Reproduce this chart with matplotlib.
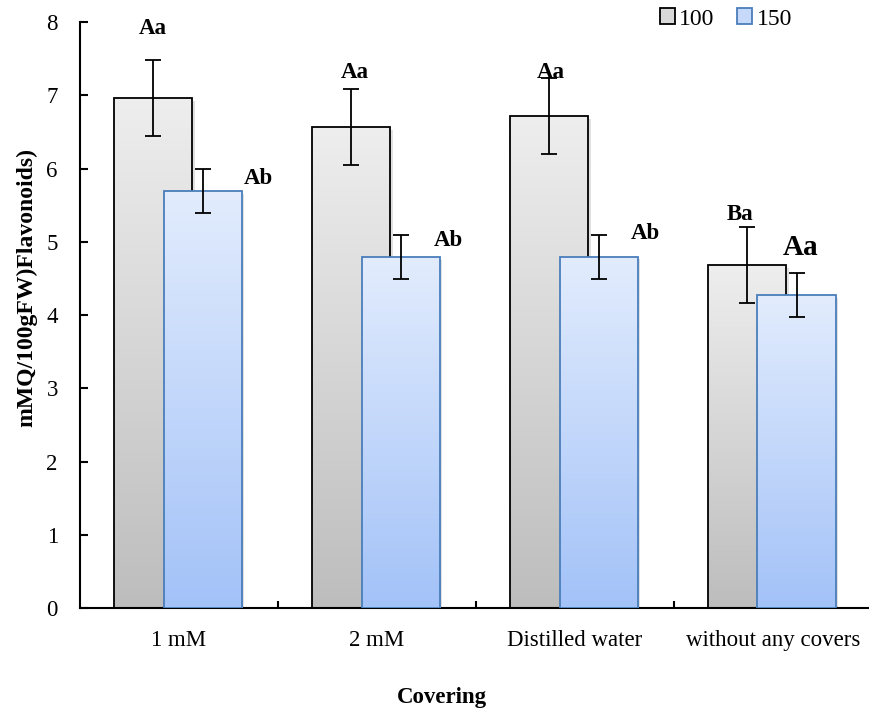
import numpy as np
import matplotlib
matplotlib.use('Agg')
import matplotlib.pyplot as plt
import matplotlib.colors as mcolors

plt.rcParams['font.family'] = ['Liberation Serif', 'DejaVu Serif']

# data
categories = ['1 mM', '2 mM', 'Distilled water', 'without any covers']
series = ['100', '150']
vals_100 = [6.97, 6.57, 6.72, 4.69]
vals_150 = [5.70, 4.79, 4.80, 4.27]
err_100 = [0.52, 0.52, 0.52, 0.52]
err_150 = [0.30, 0.30, 0.30, 0.30]
letters_100 = ['Aa', 'Aa', 'Aa', 'Ba']
letters_150 = ['Ab', 'Ab', 'Ab', 'Aa']

fig = plt.figure(figsize=(8.7, 7.17), dpi=100)
ax = fig.add_axes([0.092, 0.152, 0.91, 0.817])

x = np.arange(len(categories))
width = 0.395
offs = [-0.13, 0.12]

grads = [('#eeeeee', '#bdbdbd', 'black'), ('#e2ecfd', '#a3c2f8', '#4a7ebb')]


def grad_bars(xs, vals, errs, top, bottom, edge, z):
	cmap = mcolors.LinearSegmentedColormap.from_list('g', [bottom, top])
	img = np.linspace(0, 1, 256).reshape(-1, 1)
	bars = ax.bar(xs, vals, width, facecolor='none', edgecolor=edge, linewidth=1.3, zorder=z + 1)
	for b in bars:
		# soft shadow
		ax.add_patch(plt.Rectangle((b.get_x() + 0.012, 0), b.get_width(), b.get_height() - 0.04,
			facecolor='#000000', alpha=0.12, zorder=z - 0.5, linewidth=0))
		im = ax.imshow(img, cmap=cmap, aspect='auto', origin='lower',
			extent=[b.get_x(), b.get_x() + b.get_width(), 0, b.get_height()], zorder=z)
		im.set_clip_path(b)
	ax.errorbar(xs, vals, yerr=errs, fmt='none', ecolor='black', elinewidth=1.3,
		capsize=6, capthick=1.3, zorder=z + 2)
	return bars


b1 = grad_bars(x + offs[0], vals_100, err_100, grads[0][0], grads[0][1], grads[0][2], 2)
b2 = grad_bars(x + offs[1], vals_150, err_150, grads[1][0], grads[1][1], grads[1][2], 5)

# significance letters, placed next to their bars
lx_100 = [0.0, 0.02, 0.01, -0.035]
ly_100 = [0.43, 0.23, 0.08, 0.16]
lx_150 = [0.28, 0.24, 0.235, 0.02]
ly_150 = [-0.13, -0.07, 0.02, 0.36]
for i in range(len(categories)):
	ax.text(x[i] + offs[0] + lx_100[i], vals_100[i] + err_100[i] + ly_100[i], letters_100[i],
		ha='center', va='center', fontsize=16.5, fontweight='bold', zorder=10)
	ax.text(x[i] + offs[1] + lx_150[i], vals_150[i] + err_150[i] + ly_150[i], letters_150[i],
		ha='center', va='center', fontsize=16.5 if i < 3 else 21, fontweight='bold', zorder=10)

ax.set_xlim(-0.5, 3.5)
ax.set_ylim(0, 8)
ax.set_xticks(x)
ax.set_xticklabels(categories, fontsize=16.5)
ax.set_xticks([0.5, 1.5, 2.5], minor=True)
ax.tick_params(axis='x', which='major', length=0, pad=16)
ax.tick_params(axis='x', which='minor', direction='in', length=5, width=1.5)
ax.tick_params(axis='y', direction='in', length=6, width=1.5, labelsize=16.5, pad=16)
ax.set_yticks(range(0, 9))

for s in ['top', 'right']:
	ax.spines[s].set_visible(False)
for s in ['left', 'bottom']:
	ax.spines[s].set_linewidth(1.5)

fig.text(442 / 870, 1 - 697 / 717, 'Covering', ha='center', va='center', fontsize=16.5, fontweight='bold')
fig.text(27 / 870, 1 - 288 / 717, 'mMQ/100gFW)Flavonoids)', ha='center', va='center', rotation=90,
	fontsize=17, fontweight='bold')

h1 = plt.Rectangle((0, 0), 1, 1, facecolor='#d9d9d9', edgecolor='black', linewidth=1.3)
h2 = plt.Rectangle((0, 0), 1, 1, facecolor='#c6d9fa', edgecolor='#4a7ebb', linewidth=1.3)
ax.legend([h1, h2], series, loc='center', bbox_to_anchor=(726 / 870, 1 - 19 / 717),
	bbox_transform=fig.transFigure, ncol=2, frameon=False,
	fontsize=17, handlelength=0.63, handleheight=0.63, handletextpad=0.2, columnspacing=0.95)

fig.savefig('out.png', dpi=100)
